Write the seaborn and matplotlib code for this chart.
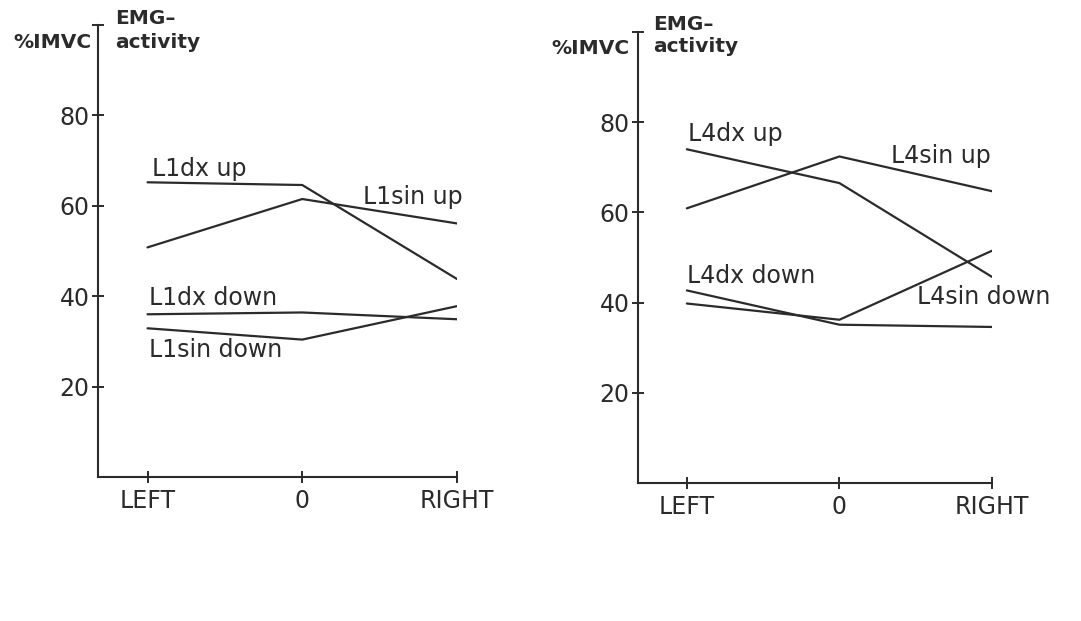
import numpy as np
import pandas as pd
import matplotlib
matplotlib.use("Agg")
import matplotlib.pyplot as plt
import seaborn as sns

# ---- data ----
positions = ["LEFT", "0", "RIGHT"]

l1_dx_up = [65.2, 64.6, 43.8]
l1_sin_up = [50.8, 61.5, 56.1]
l1_dx_down = [36.0, 36.4, 34.9]
l1_sin_down = [32.9, 30.4, 37.8]

l4_dx_up = [74.0, 66.5, 45.7]
l4_sin_up = [60.9, 72.4, 64.7]
l4_dx_down = [42.7, 35.1, 34.6]
l4_sin_down = [39.8, 36.2, 51.5]

left_series = {"L1dx up": l1_dx_up, "L1sin up": l1_sin_up,
               "L1dx down": l1_dx_down, "L1sin down": l1_sin_down}
right_series = {"L4dx up": l4_dx_up, "L4sin up": l4_sin_up,
                "L4dx down": l4_dx_down, "L4sin down": l4_sin_down}

y_ticks = [20, 40, 60, 80, 100]
y_ticklabels = ["20", "40", "60", "80", ""]

# label anchors (data coords)
left_labels = {"L1dx up": (0.03, 68.2), "L1sin up": (1.39, 61.9),
               "L1dx down": (0.01, 39.7), "L1sin down": (0.01, 28.2)}
right_labels = {"L4dx up": (0.01, 77.3), "L4sin up": (1.34, 72.5),
                "L4dx down": (0.0, 46.0), "L4sin down": (1.51, 41.3)}

sns.set_style("white")
plt.rcParams['font.family'] = ['DejaVu Sans']

W, H = 1081, 621
fig = plt.figure(figsize=(W / 100, H / 100), dpi=100)
fig.patch.set_facecolor("white")

ink = "#2b2b2b"


def make_long(series):
    rows = []
    for name, vals in series.items():
        for i, v in enumerate(vals):
            rows.append({"series": name, "pos": i, "value": v})
    return pd.DataFrame(rows)


def panel(rect_px, series, labels):
    x0, y_axis, x1, y_top = rect_px
    ax = fig.add_axes([x0 / W, 1 - y_axis / H, (x1 - x0) / W, (y_axis - y_top) / H])
    df = make_long(series)
    sns.lineplot(data=df, x="pos", y="value", hue="series",
                 palette=[ink] * len(series), legend=False, ax=ax,
                 linewidth=1.6, sort=False)
    ax.set_xlim(-0.32, 2.0)
    ax.set_ylim(0, 100)
    ax.set_xticks(range(len(positions)))
    ax.set_xticklabels(positions)
    ax.set_yticks(y_ticks)
    ax.set_yticklabels(y_ticklabels)
    ax.set_xlabel("")
    ax.set_ylabel("")
    for s in ["top", "right"]:
        ax.spines[s].set_visible(False)
    for s in ["left", "bottom"]:
        ax.spines[s].set_linewidth(1.5)
        ax.spines[s].set_color(ink)
    ax.tick_params(axis="both", direction="inout", length=8, width=1.4,
                   color=ink, labelcolor=ink, labelsize=17,
                   bottom=True, left=True, top=False, right=False)
    ax.tick_params(axis="x", pad=5)
    ax.tick_params(axis="y", pad=2)
    ax.patch.set_alpha(0)
    for name, (lx, ly) in labels.items():
        ax.text(lx, ly, name, ha="left", va="center", fontsize=17, color=ink)
    return ax


axL = panel((98, 477, 457, 25), left_series, left_labels)
axR = panel((638, 483, 992, 32), right_series, right_labels)

# axis titles
for (xa, ypct, yemg, yact) in [(100, 43, 18, 42), (638, 48, 25, 47)]:
    fig.text((xa - 8) / W, 1 - ypct / H, "%IMVC", ha="right", va="center",
             fontsize=14.5, fontweight="bold", color=ink)
    fig.text((xa + 15) / W, 1 - yemg / H, "EMG\u2013", ha="left", va="center",
             fontsize=14.5, fontweight="bold", color=ink)
    fig.text((xa + 15) / W, 1 - yact / H, "activity", ha="left", va="center",
             fontsize=14.5, fontweight="bold", color=ink)

fig.savefig("out.png", dpi=100, facecolor="white")
